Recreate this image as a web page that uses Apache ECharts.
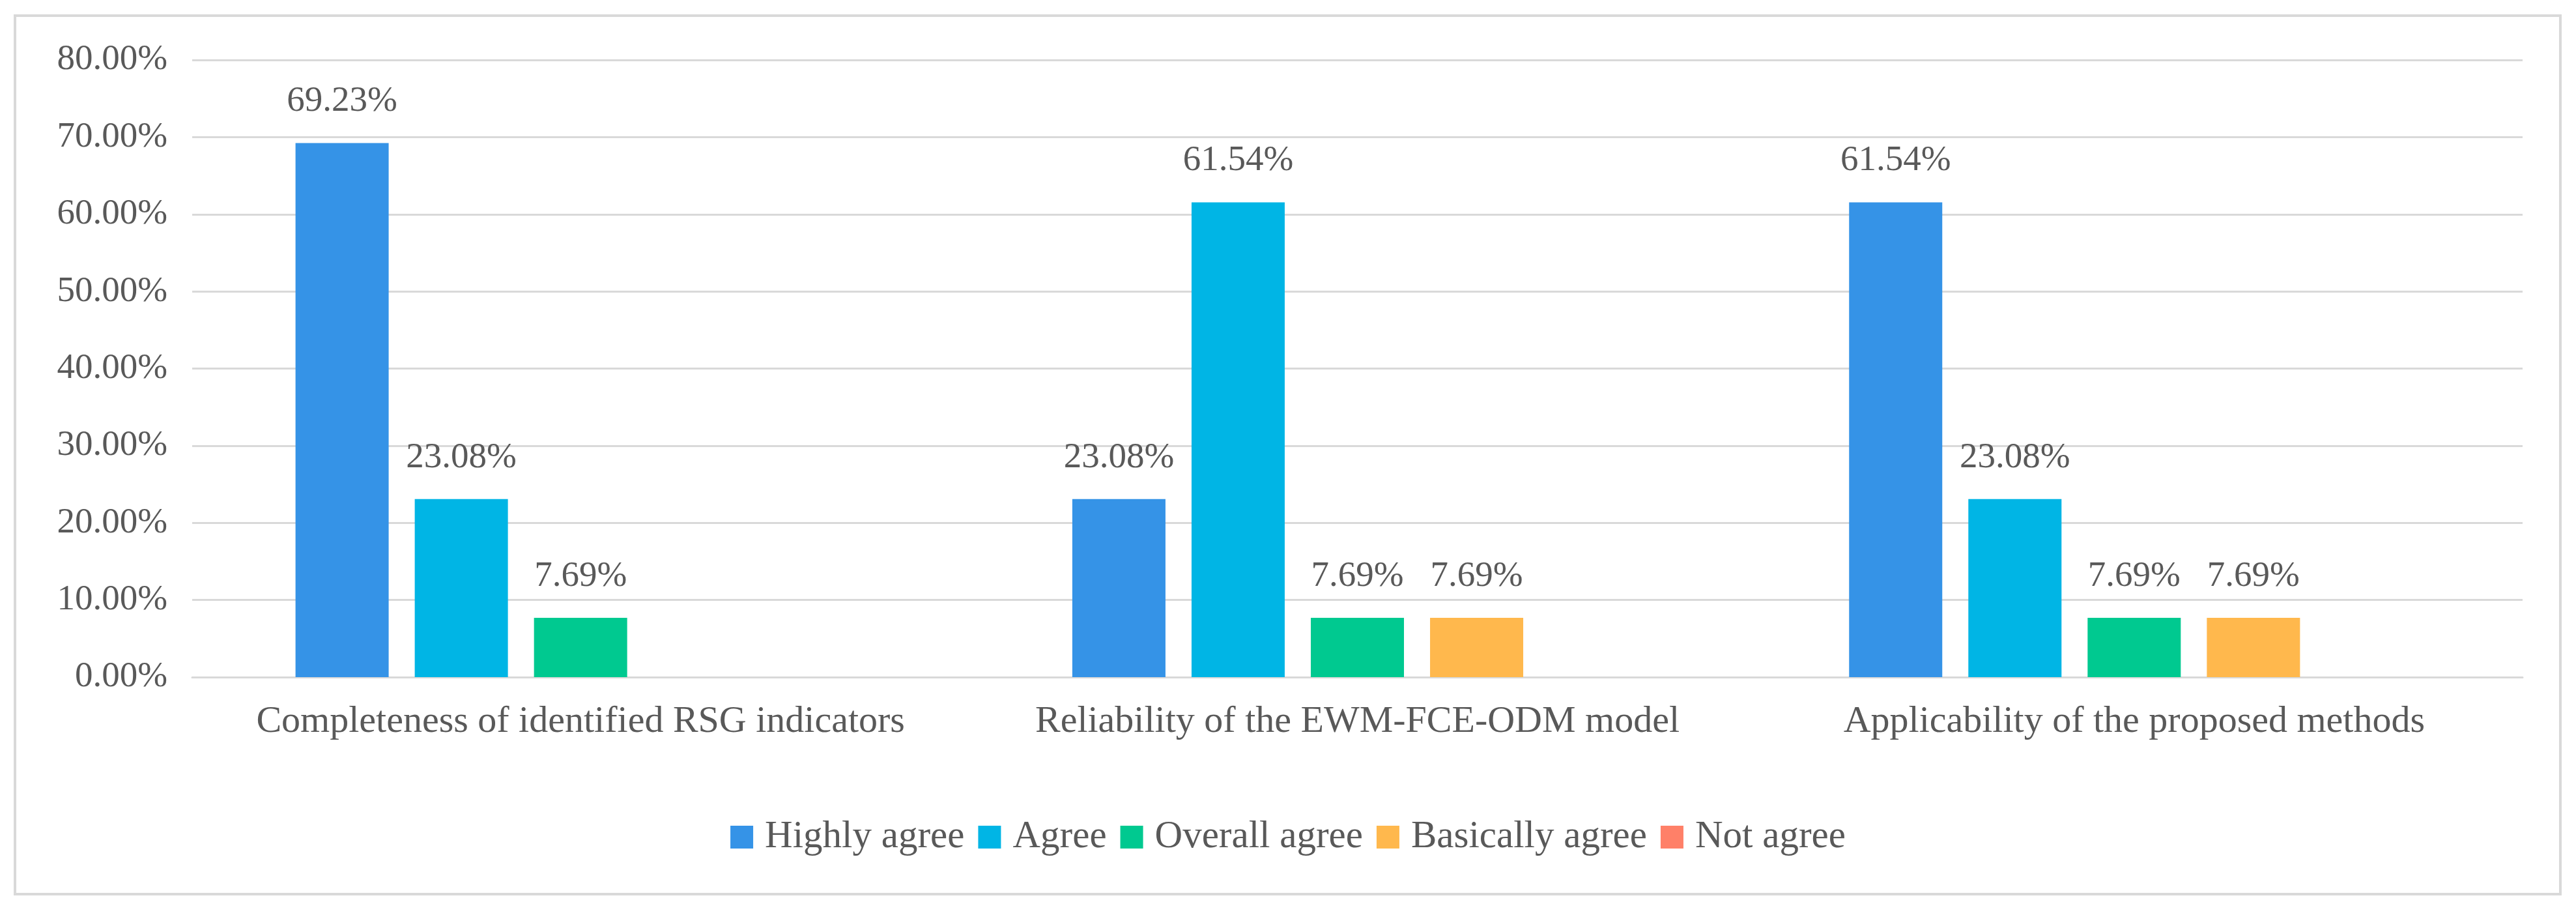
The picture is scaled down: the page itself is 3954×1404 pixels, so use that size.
<!DOCTYPE html>
<html>
<head>
<meta charset="utf-8">
<script src="https://cdn.jsdelivr.net/npm/echarts@6/dist/echarts.min.js"></script>
<style>
html,body{margin:0;padding:0;background:#fff;}
#chart{width:3954px;height:1404px;}
</style>
</head>
<body>
<div id="chart"></div>
<script>
var categories = ['Completeness of identified RSG indicators', 'Reliability of the EWM-FCE-ODM model', 'Applicability of the proposed methods'];
var seriesNames = ['Highly agree', 'Agree', 'Overall agree', 'Basically agree', 'Not agree'];
var highlyAgree = [69.23, 23.08, 61.54];
var agree = [23.08, 61.54, 23.08];
var overallAgree = [7.69, 7.69, 7.69];
var basicallyAgree = [0, 7.69, 7.69];
var notAgree = [0, 0, 0];
var yTicks = [0, 10, 20, 30, 40, 50, 60, 70, 80];

var colors = ['#3593E7', '#00B5E5', '#00C990', '#FFB84D', '#FF8068'];
var seriesValues = [highlyAgree, agree, overallAgree, basicallyAgree, notAgree];
var FONT = '"Liberation Serif", "Times New Roman", serif';
var TEXT = '#595959';

var chart = echarts.init(document.getElementById('chart'), null, {renderer: 'canvas'});

var series = seriesNames.map(function (name, i) {
  return {
    name: name,
    type: 'bar',
    data: seriesValues[i],
    barWidth: 143,
    barGap: '28%',
    itemStyle: {color: colors[i]},
    label: {
      show: true,
      position: 'top',
      distance: 36,
      fontFamily: FONT,
      fontSize: 55,
      lineHeight: 55,
      color: TEXT,
      formatter: function (p) { return p.value > 0 ? p.value.toFixed(2) + '%' : ''; }
    }
  };
});

chart.setOption({
  backgroundColor: '#ffffff',
  animation: false,
  color: colors,
  graphic: [{
    type: 'rect',
    shape: {x: 23, y: 24, width: 3907, height: 1348},
    style: {fill: 'none', stroke: '#D9D9D9', lineWidth: 4},
    silent: true
  }],
  grid: {left: 295, right: 82, top: 92, bottom: 365, containLabel: false},
  legend: {
    data: seriesNames,
    left: 'center',
    top: 1255,
    padding: 0,
    icon: 'rect',
    itemWidth: 35,
    itemHeight: 35,
    itemGap: 21,
    textStyle: {fontFamily: FONT, fontSize: 59, lineHeight: 59, color: TEXT, padding: [0, 0, 0, 13]}
  },
  xAxis: {
    type: 'category',
    data: categories,
    axisLine: {show: true, lineStyle: {color: '#D9D9D9', width: 3}},
    axisTick: {show: false},
    axisLabel: {interval: 0, margin: 40, fontFamily: FONT, fontSize: 58, lineHeight: 58, color: TEXT}
  },
  yAxis: {
    type: 'value',
    min: yTicks[0],
    max: yTicks[yTicks.length - 1],
    interval: yTicks[1] - yTicks[0],
    axisLine: {show: false},
    axisTick: {show: false},
    splitLine: {show: true, lineStyle: {color: '#D9D9D9', width: 3}},
    axisLabel: {
      margin: 38,
      fontFamily: FONT,
      fontSize: 55,
      color: TEXT,
      formatter: function (v) { return v.toFixed(2) + '%'; }
    }
  },
  series: series
});
</script>
</body>
</html>
